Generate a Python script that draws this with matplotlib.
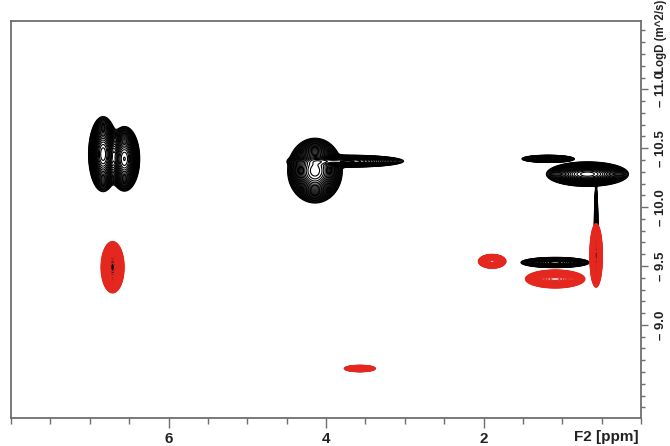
import numpy as np
import matplotlib
matplotlib.use("Agg")
import matplotlib.pyplot as plt
from matplotlib import font_manager
from matplotlib.ticker import MultipleLocator, FixedLocator

# peak centres (ppm, logD), widths (ppm, logD) and heights, per colour
black_ppm = [6.83, 6.56, 4.14, 3.72, 0.68, 1.18, 0.57, 1.09, 6.71]
black_logd = [-10.45, -10.41, -10.31, -10.39, -10.28, -10.41, -9.78, -9.53, -9.50]
black_wx = [0.064, 0.068, 0.12, 0.25, 0.18, 0.12, 0.008, 0.15, 0.006]
black_wy = [0.11, 0.096, 0.095, 0.018, 0.036, 0.011, 0.14, 0.015, 0.06]
black_amp = [1.0, 0.9, 1.0, 0.8, 1.0, 0.7, 0.8, 1.0, 0.6]

red_ppm = [6.71, 1.89, 1.09, 0.57, 3.57]
red_logd = [-9.49, -9.54, -9.39, -9.59, -8.63]
red_wx = [0.05, 0.06, 0.13, 0.027, 0.068]
red_wy = [0.075, 0.02, 0.026, 0.093, 0.009]
red_amp = [1.0, 1.0, 1.0, 1.0, 1.0]

x_major = [6, 4, 2]
y_major = [-9.0, -9.5, -10.0, -10.5, -11.0]

X_LIM = (8.0, 0.0)
Y_LIM = (-8.21, -11.58)

# narrow bold sans if we have it
installed = {f.name for f in font_manager.fontManager.ttflist}
FONT = "Liberation Sans Narrow" if "Liberation Sans Narrow" in installed else "Liberation Sans"
plt.rcParams["font.family"] = [FONT, "DejaVu Sans"]


def field(xx, yy, ppm, logd, wx, wy, amp):
    z = np.zeros_like(xx)
    for p, d, sx, sy, a in zip(ppm, logd, wx, wy, amp):
        z += a * np.exp(-0.5 * (((xx - p) / sx) ** 2 + ((yy - d) / sy) ** 2))
    return z


x = np.linspace(0.0, 8.0, 1800)
y = np.linspace(-11.6, -8.2, 1100)
xx, yy = np.meshgrid(x, y)
z_black = field(xx, yy, black_ppm, black_logd, black_wx, black_wy, black_amp)
z_red = field(xx, yy, red_ppm, red_logd, red_wx, red_wy, red_amp)

levels = 0.015 * 1.17 ** np.arange(27)

fig = plt.figure(figsize=(6.70, 4.46), dpi=100)
ax = fig.add_axes([11 / 670, 1 - 418 / 446, 630 / 670, 397 / 446])

ax.contour(xx, yy, z_black, levels=levels, colors="black", linewidths=0.8)
ax.contour(xx, yy, z_red, levels=levels, colors="#e5281f", linewidths=1.0)

ax.set_xlim(*X_LIM)
ax.set_ylim(*Y_LIM)

frame = "#6e6e6e"
for s in ax.spines.values():
    s.set_color(frame)
    s.set_linewidth(1.3)

ax.xaxis.set_major_locator(FixedLocator(x_major))
ax.xaxis.set_minor_locator(MultipleLocator(0.5))
ax.set_xticklabels([str(v) for v in x_major])
ax.tick_params(axis="x", which="major", direction="out", length=7, width=1.0,
               color=frame, pad=3, labelsize=11)
ax.tick_params(axis="x", which="minor", direction="out", length=4.5, width=1.0,
               color=frame)

ax.yaxis.tick_right()
ax.yaxis.set_major_locator(FixedLocator(y_major))
ax.yaxis.set_minor_locator(MultipleLocator(0.1))
ax.set_yticklabels(["\u2013 %.1f" % -v for v in y_major], rotation=90, va="center")
ax.tick_params(axis="y", which="major", direction="out", length=5, width=1.0,
               color=frame, pad=5, labelsize=9.5)
ax.tick_params(axis="y", which="minor", direction="out", length=3, width=1.0,
               color=frame)
ax.tick_params(axis="y", left=False, which="both")

for lab in ax.get_xticklabels() + ax.get_yticklabels():
    lab.set_fontweight("bold")
    lab.set_color("#222222")

fig.text(639 / 670, 1 - 437 / 446, "F2 [ppm]", ha="right", va="center",
         fontsize=11, fontweight="bold", color="#222222")
fig.text(661 / 670, 1 - 36 / 446, "LogD (m^2/s)", ha="center", va="center",
         rotation=90, fontsize=8.3, fontweight="bold", color="#222222")

fig.savefig("out.png", dpi=100)
